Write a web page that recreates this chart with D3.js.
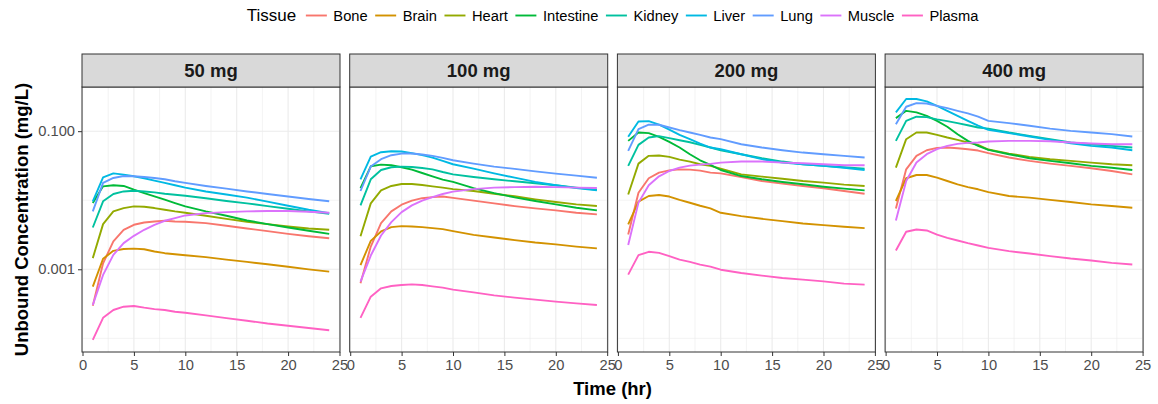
<!DOCTYPE html>
<html>
<head>
<meta charset="utf-8">
<script src="https://cdn.jsdelivr.net/npm/d3@7"></script>
<style>
  body { margin: 0; background: #ffffff; }
  svg text { font-family: "Liberation Sans", Arial, sans-serif; }
</style>
</head>
<body>
<svg id="chart" width="1158" height="404"></svg>
<script>
// ---- data -------------------------------------------------------------
const hours = [1, 2, 3, 4, 5, 6, 7, 8, 9, 10, 12, 14, 16, 18, 20, 22, 24];
const tissues = ["Bone", "Brain", "Heart", "Intestine", "Kidney", "Liver", "Lung", "Muscle", "Plasma"];
const tissueColors = ["#F8766D", "#D39200", "#93AA00", "#00BA38", "#00C19F", "#00B9E3", "#619CFF", "#DB72FB", "#FF61C3"];
const doses = ["50 mg", "100 mg", "200 mg", "400 mg"];
const xTickValues = [0, 5, 10, 15, 20, 25];
const yTickValues = [0.001, 0.1];
const yMinorValues = [0.0001, 0.01];

// unbound concentration (mg/L), 50 mg
const bone50 = [0.000297, 0.00122, 0.00253, 0.00373, 0.00441, 0.00476, 0.00493, 0.00504, 0.00493, 0.00487, 0.00466, 0.00426, 0.0039, 0.00357, 0.00326, 0.00301, 0.00282];
const brain50 = [0.00056, 0.00142, 0.00185, 0.00197, 0.00199, 0.00195, 0.00181, 0.00171, 0.00165, 0.0016, 0.0015, 0.00138, 0.00128, 0.00118, 0.00109, 0.000997, 0.000925];
const heart50 = [0.00145, 0.00451, 0.00689, 0.0077, 0.00814, 0.00805, 0.0077, 0.00728, 0.00689, 0.00658, 0.00595, 0.00538, 0.00487, 0.00451, 0.00417, 0.0039, 0.00373];
const intestine50 = [0.0091, 0.0159, 0.0165, 0.0161, 0.0142, 0.0127, 0.0114, 0.0102, 0.0091, 0.00814, 0.00689, 0.00595, 0.00509, 0.00451, 0.00403, 0.00361, 0.00326];
const kidney50 = [0.00403, 0.00965, 0.0123, 0.0134, 0.0137, 0.0134, 0.013, 0.0124, 0.012, 0.0116, 0.0107, 0.00975, 0.009, 0.00823, 0.00753, 0.00689, 0.00637];
const liver50 = [0.00965, 0.0215, 0.0245, 0.0235, 0.0222, 0.0208, 0.0192, 0.0178, 0.0165, 0.0152, 0.0134, 0.0121, 0.0109, 0.00954, 0.00832, 0.00728, 0.00651];
const lung50 = [0.00689, 0.0178, 0.021, 0.0224, 0.0222, 0.0217, 0.021, 0.0201, 0.0188, 0.0178, 0.0161, 0.0147, 0.0134, 0.0123, 0.0113, 0.0104, 0.00965];
const muscle50 = [0.000304, 0.000828, 0.00162, 0.00239, 0.00305, 0.00373, 0.00441, 0.00504, 0.0055, 0.00602, 0.00651, 0.00673, 0.00689, 0.00697, 0.00697, 0.00681, 0.00658];
const plasma50 = [0.0000947, 0.000198, 0.000257, 0.000287, 0.000294, 0.000278, 0.000265, 0.000257, 0.000243, 0.000235, 0.000215, 0.000196, 0.00018, 0.000164, 0.000152, 0.000141, 0.000131];

// 100 mg
const bone100 = [0.000626, 0.00213, 0.00466, 0.00689, 0.00861, 0.00986, 0.0107, 0.0111, 0.0113, 0.0108, 0.00986, 0.009, 0.00823, 0.00761, 0.00712, 0.00658, 0.00623];
const brain100 = [0.00115, 0.00258, 0.00353, 0.00408, 0.00421, 0.00417, 0.00408, 0.00394, 0.00381, 0.00357, 0.00315, 0.00288, 0.00264, 0.00244, 0.00229, 0.00213, 0.00201];
const heart100 = [0.00301, 0.009, 0.0139, 0.0161, 0.0172, 0.0172, 0.0166, 0.0159, 0.0152, 0.0145, 0.0136, 0.0124, 0.0114, 0.0103, 0.00943, 0.0087, 0.00823];
const intestine100 = [0.015, 0.031, 0.0328, 0.0321, 0.03, 0.0277, 0.0248, 0.0222, 0.0199, 0.0184, 0.015, 0.0127, 0.011, 0.00975, 0.0087, 0.00778, 0.00712];
const kidney100 = [0.00842, 0.0201, 0.0274, 0.03, 0.0307, 0.0303, 0.0293, 0.028, 0.0256, 0.0237, 0.0217, 0.0201, 0.0188, 0.0176, 0.0165, 0.0152, 0.0142];
const liver100 = [0.0201, 0.0429, 0.0496, 0.0513, 0.0507, 0.048, 0.0449, 0.0415, 0.0371, 0.0332, 0.0287, 0.0245, 0.0212, 0.0184, 0.0165, 0.015, 0.0139];
const lung100 = [0.0136, 0.0307, 0.0393, 0.0449, 0.0474, 0.0474, 0.0459, 0.0439, 0.041, 0.0379, 0.0339, 0.0307, 0.0284, 0.0262, 0.0243, 0.0227, 0.0212];
const muscle100 = [0.000662, 0.00158, 0.00308, 0.00482, 0.00673, 0.00842, 0.00986, 0.0111, 0.0123, 0.0133, 0.0145, 0.0152, 0.0155, 0.0157, 0.0155, 0.0152, 0.015];
const plasma100 = [0.000198, 0.000401, 0.00053, 0.000573, 0.000592, 0.000605, 0.000592, 0.000566, 0.000542, 0.000507, 0.000463, 0.000419, 0.000388, 0.000363, 0.00034, 0.000321, 0.000304];

// 200 mg
const bone200 = [0.00318, 0.0128, 0.0208, 0.0251, 0.0271, 0.028, 0.0277, 0.0268, 0.0251, 0.0245, 0.0217, 0.019, 0.0174, 0.0161, 0.0149, 0.0136, 0.0124];
const brain200 = [0.00446, 0.00954, 0.0115, 0.0119, 0.0113, 0.0101, 0.0092, 0.00832, 0.00761, 0.00658, 0.00589, 0.00538, 0.00498, 0.00461, 0.00436, 0.00412, 0.00394];
const heart200 = [0.0121, 0.0339, 0.0439, 0.0444, 0.0424, 0.0388, 0.0363, 0.0332, 0.0314, 0.0287, 0.0237, 0.022, 0.0205, 0.019, 0.018, 0.0168, 0.0161];
const intestine200 = [0.0724, 0.0957, 0.0936, 0.0828, 0.07, 0.058, 0.0464, 0.0379, 0.0325, 0.0274, 0.0224, 0.0201, 0.0184, 0.017, 0.0157, 0.0147, 0.0139];
const kidney200 = [0.0314, 0.0633, 0.081, 0.0847, 0.0792, 0.074, 0.0692, 0.0633, 0.058, 0.053, 0.0464, 0.0406, 0.0363, 0.0332, 0.0314, 0.03, 0.0287];
const liver200 = [0.0828, 0.138, 0.14, 0.124, 0.105, 0.0885, 0.0766, 0.0662, 0.058, 0.0548, 0.0464, 0.0393, 0.0351, 0.0332, 0.0314, 0.0296, 0.0274];
const lung200 = [0.0518, 0.107, 0.124, 0.124, 0.113, 0.1035, 0.0957, 0.0885, 0.081, 0.0766, 0.0647, 0.058, 0.053, 0.049, 0.0464, 0.0439, 0.0415];
const muscle200 = [0.00224, 0.00923, 0.0165, 0.0222, 0.0265, 0.0296, 0.0317, 0.0328, 0.0336, 0.0351, 0.0363, 0.0363, 0.0351, 0.0343, 0.0332, 0.0321, 0.0321];
const plasma200 = [0.000837, 0.0016, 0.00179, 0.00173, 0.00155, 0.00138, 0.00128, 0.00117, 0.00109, 0.000986, 0.000885, 0.000809, 0.000749, 0.000708, 0.000669, 0.000619, 0.000599];

// 400 mg
const bone400 = [0.00761, 0.028, 0.0439, 0.053, 0.0573, 0.058, 0.0567, 0.0548, 0.0524, 0.048, 0.0415, 0.0371, 0.0339, 0.0314, 0.029, 0.0265, 0.0237];
const brain400 = [0.00975, 0.0208, 0.0232, 0.0232, 0.0212, 0.019, 0.017, 0.0155, 0.0144, 0.0131, 0.0115, 0.0109, 0.0101, 0.00943, 0.0087, 0.00823, 0.00778];
const heart400 = [0.0296, 0.0766, 0.0957, 0.0957, 0.0885, 0.081, 0.0749, 0.0685, 0.0633, 0.0542, 0.0474, 0.0424, 0.0393, 0.0371, 0.0351, 0.0332, 0.0321];
const intestine400 = [0.1545, 0.197, 0.187, 0.167, 0.141, 0.116, 0.0905, 0.0724, 0.0612, 0.0536, 0.0464, 0.0406, 0.0371, 0.0343, 0.0314, 0.0296, 0.0274];
const kidney400 = [0.0724, 0.141, 0.162, 0.16, 0.148, 0.14, 0.131, 0.122, 0.113, 0.109, 0.0957, 0.0856, 0.0766, 0.0685, 0.0647, 0.0612, 0.058];
const liver400 = [0.187, 0.292, 0.292, 0.27, 0.233, 0.197, 0.167, 0.141, 0.12, 0.1046, 0.0936, 0.0838, 0.0749, 0.067, 0.0612, 0.058, 0.053];
const lung400 = [0.126, 0.226, 0.255, 0.252, 0.233, 0.216, 0.197, 0.181, 0.162, 0.141, 0.131, 0.12, 0.109, 0.101, 0.0957, 0.0905, 0.0838];
const muscle400 = [0.00509, 0.019, 0.0351, 0.0464, 0.0548, 0.0612, 0.0655, 0.0677, 0.0685, 0.0708, 0.0724, 0.0724, 0.0716, 0.0685, 0.0662, 0.0647, 0.0647];
const plasma400 = [0.00187, 0.00349, 0.00377, 0.00365, 0.00318, 0.00285, 0.00261, 0.00239, 0.00221, 0.00204, 0.00183, 0.00169, 0.00155, 0.00143, 0.00134, 0.00124, 0.00117];

// ---- long table built from the arrays ----------------------------------
const byDose = [
  [bone50, brain50, heart50, intestine50, kidney50, liver50, lung50, muscle50, plasma50],
  [bone100, brain100, heart100, intestine100, kidney100, liver100, lung100, muscle100, plasma100],
  [bone200, brain200, heart200, intestine200, kidney200, liver200, lung200, muscle200, plasma200],
  [bone400, brain400, heart400, intestine400, kidney400, liver400, lung400, muscle400, plasma400]
];
const panels = doses.map((dose, di) => ({
  dose,
  series: tissues.map((tissue, ti) => ({
    tissue,
    points: hours.map((h, k) => ({ t: h, c: byDose[di][ti][k] }))
  }))
}));

// ---- layout -------------------------------------------------------------
const svg = d3.select("#chart");
const W = 1158;
const panelLeft = 82, panelWidth = 258, panelStep = 267.7;
const stripTop = 54, panelTop = 87, panelBottom = 352;
const fontTick = "14.7px", fontTitle = "18.5px";
const gridColor = "#EBEBEB", frameColor = "#333333", tickTextColor = "#4D4D4D";

const allValues = byDose.flat(2);
const [lo, hi] = d3.extent(allValues);
const span = Math.log10(hi) - Math.log10(lo);
const yDomain = [Math.pow(10, Math.log10(lo) - 0.05 * span), Math.pow(10, Math.log10(hi) + 0.05 * span)];

const y = d3.scaleLog().domain(yDomain).range([panelBottom, panelTop]);
const x = d3.scaleLinear().domain([-0.05, 25.05]).range([0, panelWidth]);
const color = d3.scaleOrdinal().domain(tissues).range(tissueColors);
const xMinor = d3.range(2.5, 25, 5);

const line = d3.line()
  .x(d => x(d.t))
  .y(d => y(d.c));

panels.forEach((p, i) => {
  const g = svg.append("g").attr("transform", `translate(${panelLeft + i * panelStep},0)`);

  // panel background + grid
  g.append("rect").attr("x", 0).attr("y", panelTop)
    .attr("width", panelWidth).attr("height", panelBottom - panelTop).attr("fill", "#fff");

  g.selectAll(".ygm").data(yMinorValues).join("line")
    .attr("x1", 0).attr("x2", panelWidth)
    .attr("y1", d => y(d)).attr("y2", d => y(d))
    .attr("stroke", gridColor).attr("stroke-width", 0.6);
  g.selectAll(".xgm").data(xMinor).join("line")
    .attr("x1", d => x(d)).attr("x2", d => x(d))
    .attr("y1", panelTop).attr("y2", panelBottom)
    .attr("stroke", gridColor).attr("stroke-width", 0.6);
  g.selectAll(".yg").data(yTickValues).join("line")
    .attr("x1", 0).attr("x2", panelWidth)
    .attr("y1", d => y(d)).attr("y2", d => y(d))
    .attr("stroke", gridColor).attr("stroke-width", 1.1);
  g.selectAll(".xg").data(xTickValues).join("line")
    .attr("x1", d => x(d)).attr("x2", d => x(d))
    .attr("y1", panelTop).attr("y2", panelBottom)
    .attr("stroke", gridColor).attr("stroke-width", 1.1);

  // concentration curves
  const clipId = "clip" + i;
  g.append("clipPath").attr("id", clipId).append("rect")
    .attr("x", 0).attr("y", panelTop).attr("width", panelWidth).attr("height", panelBottom - panelTop);
  g.append("g").attr("clip-path", `url(#${clipId})`)
    .selectAll("path").data(p.series).join("path")
    .attr("d", s => line(s.points))
    .attr("fill", "none")
    .attr("stroke", s => color(s.tissue))
    .attr("stroke-width", 1.9)
    .attr("stroke-linejoin", "round");

  // frame
  g.append("rect").attr("x", 0).attr("y", panelTop)
    .attr("width", panelWidth).attr("height", panelBottom - panelTop)
    .attr("fill", "none").attr("stroke", frameColor).attr("stroke-width", 1);

  // strip
  g.append("rect").attr("x", 0).attr("y", stripTop)
    .attr("width", panelWidth).attr("height", panelTop - stripTop)
    .attr("fill", "#D9D9D9").attr("stroke", frameColor).attr("stroke-width", 1);
  g.append("text")
    .attr("x", panelWidth / 2).attr("y", 77)
    .attr("text-anchor", "middle")
    .attr("font-size", fontTitle).attr("font-weight", "bold").attr("fill", "#1A1A1A")
    .text(p.dose);

  // x axis
  const xAxis = d3.axisBottom(x).tickValues(xTickValues).tickSize(4).tickPadding(4).tickFormat(d3.format("d"));
  const ax = g.append("g").attr("transform", `translate(0,${panelBottom})`).call(xAxis);
  ax.select(".domain").remove();
  ax.selectAll(".tick line").attr("stroke", frameColor);
  ax.selectAll(".tick text").attr("font-size", fontTick).attr("fill", tickTextColor)
    .attr("font-family", "Liberation Sans, Arial, sans-serif");

  // y axis on the first panel only
  if (i === 0) {
    const yAxis = d3.axisLeft(y).tickValues(yTickValues).tickSize(4).tickPadding(3).tickFormat(d3.format(".3f"));
    const ay = g.append("g").call(yAxis);
    ay.select(".domain").remove();
    ay.selectAll(".tick line").attr("stroke", frameColor);
    ay.selectAll(".tick text").attr("font-size", fontTick).attr("fill", tickTextColor)
      .attr("font-family", "Liberation Sans, Arial, sans-serif");
  }
});

// axis titles
const plotMidX = (panelLeft + 3 * panelStep + panelWidth + panelLeft) / 2;
svg.append("text")
  .attr("x", plotMidX).attr("y", 395)
  .attr("text-anchor", "middle").attr("font-size", fontTitle).attr("font-weight", "bold")
  .attr("fill", "#000").text("Time (hr)");
svg.append("text")
  .attr("transform", `translate(28,${(panelTop + panelBottom) / 2}) rotate(-90)`)
  .attr("text-anchor", "middle").attr("font-size", fontTitle).attr("font-weight", "bold")
  .attr("fill", "#000").text("Unbound Concentration (mg/L)");

// legend across the top
const legend = svg.append("g");
const title = legend.append("text").attr("x", 0).attr("y", 21)
  .attr("font-size", "17px").attr("fill", "#000").text("Tissue");
let cursor = title.node().getComputedTextLength() + 9.7;
tissues.forEach(t => {
  legend.append("line")
    .attr("x1", cursor).attr("x2", cursor + 21)
    .attr("y1", 15.5).attr("y2", 15.5)
    .attr("stroke", color(t)).attr("stroke-width", 1.9);
  const label = legend.append("text").attr("x", cursor + 27.5).attr("y", 20.5)
    .attr("font-size", "14.7px").attr("fill", "#000").text(t);
  cursor += 27.5 + label.node().getComputedTextLength() + 7.5;
});
const legendWidth = cursor - 7.5;
legend.attr("transform", `translate(${plotMidX - legendWidth / 2},0)`);
</script>
</body>
</html>
